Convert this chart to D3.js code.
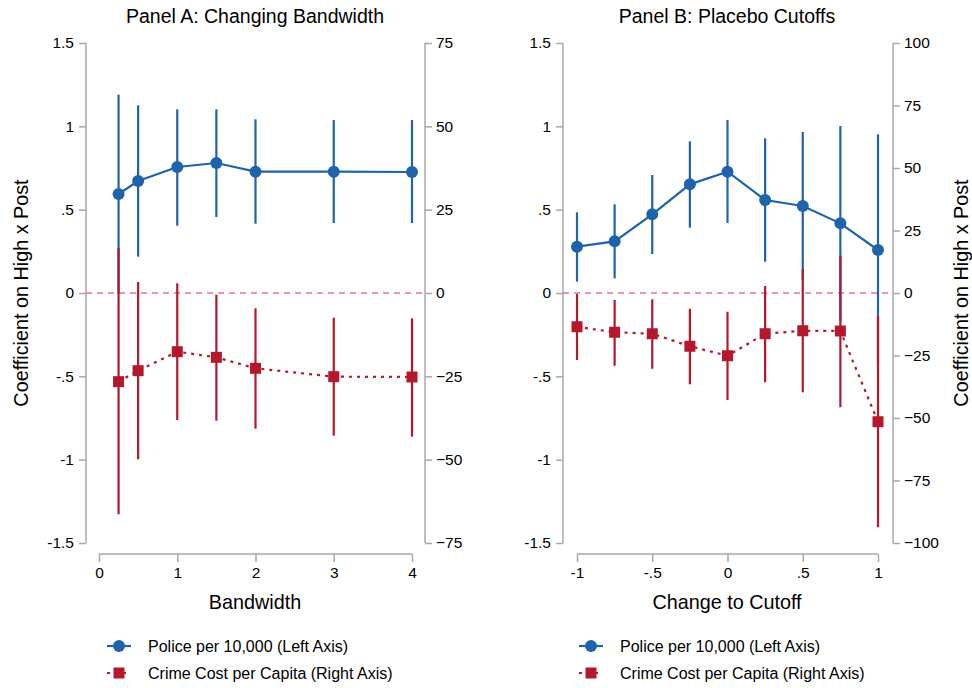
<!DOCTYPE html>
<html>
<head>
<meta charset="utf-8">
<script src="https://cdn.jsdelivr.net/npm/d3@7"></script>
<style>
  body { margin: 0; background: #fff; }
  text { font-family: "Liberation Sans", Arial, Helvetica, sans-serif; fill: #000; }
</style>
</head>
<body>
<div id="canvas"></div>
<script>
// Panel A: changing bandwidth
var bwX        = [0.25, 0.5, 1, 1.5, 2, 3, 4];
var bwPolice   = [0.594, 0.672, 0.756, 0.78, 0.728, 0.728, 0.726];
var bwPoliceLo = [0.0, 0.218, 0.404, 0.456, 0.416, 0.42, 0.42];
var bwPoliceHi = [1.19, 1.126, 1.102, 1.102, 1.042, 1.038, 1.038];
var bwCrime    = [-26.6, -23.3, -17.6, -19.3, -22.6, -25.1, -25.2];
var bwCrimeLo  = [-66.4, -49.9, -38.1, -38.3, -40.7, -42.8, -43.1];
var bwCrimeHi  = [13.5, 3.3, 2.9, -0.5, -4.6, -7.4, -7.6];

// Panel B: placebo cutoffs
var pcX        = [-1, -0.75, -0.5, -0.25, 0, 0.25, 0.5, 0.75, 1];
var pcPolice   = [0.278, 0.31, 0.472, 0.652, 0.728, 0.558, 0.522, 0.418, 0.258];
var pcPoliceLo = [0.068, 0.088, 0.234, 0.392, 0.42, 0.188, 0.078, -0.166, -0.436];
var pcPoliceHi = [0.484, 0.532, 0.708, 0.91, 1.038, 0.928, 0.966, 1.002, 0.952];
var pcCrime    = [-13.5, -15.7, -16.3, -21.3, -25.1, -16.3, -15.1, -15.2, -51.5];
var pcCrimeLo  = [-26.8, -29.1, -30.3, -36.5, -42.8, -35.7, -39.7, -45.7, -93.7];
var pcCrimeHi  = [-0.4, -2.8, -2.5, -6.3, -7.5, 2.8, 9.6, 14.9, -9.2];

// tick labels
var leftTicks   = [1.5, 1, 0.5, 0, -0.5, -1, -1.5];
var rightTicksA = [75, 50, 25, 0, -25, -50, -75];
var rightTicksB = [100, 75, 50, 25, 0, -25, -50, -75, -100];
var xTicksA = [0, 1, 2, 3, 4];
var xTicksB = [-1, -0.5, 0, 0.5, 1];

var legendLabels = ["Police per 10,000 (Left Axis)", "Crime Cost per Capita (Right Axis)"];

var blue = "#1f63ab", red = "#b3182d", pink = "#e0719f", grey = "#a8a8a8";

var w = 972, h = 688;
var svg = d3.select("#canvas").append("svg")
    .attr("width", w).attr("height", h);

function fmtLeft(v) {
  if (v === 0) return "0";
  var s = String(v);
  return s.replace(/^0\./, ".").replace(/^-0\./, "-.");
}

function drawPanel(p) {
  var g = svg.append("g");
  var yL = d3.scaleLinear().domain([-1.5, 1.5]).range([543, 43]);
  var yR = d3.scaleLinear().domain([-p.rMax, p.rMax]).range([543, 43]);
  var x = d3.scaleLinear().domain(p.xDomain).range(p.xRange);

  // title
  g.append("text").attr("x", p.center).attr("y", 23)
    .attr("text-anchor", "middle").style("font-size", "19.5px").text(p.title);

  // left axis
  var la = g.append("g").attr("transform", "translate(" + p.leftX + ",0)")
    .call(d3.axisLeft(yL).tickValues(leftTicks).tickFormat(fmtLeft).tickSize(7).tickPadding(5));
  // right axis
  var ra = g.append("g").attr("transform", "translate(" + p.rightX + ",0)")
    .call(d3.axisRight(yR).tickValues(p.rTicks).tickFormat(d3.format("d")).tickSize(7).tickPadding(4));
  // bottom axis
  var ba = g.append("g").attr("transform", "translate(0,554)")
    .call(d3.axisBottom(x).tickValues(p.xTicks).tickFormat(p.xFmt).tickSize(8).tickPadding(5));

  [la, ra, ba].forEach(function(a) {
    a.select(".domain").attr("stroke", grey).attr("stroke-width", 1.5);
    a.selectAll(".tick line").attr("stroke", grey).attr("stroke-width", 1.5);
    a.selectAll(".tick text").style("font-size", "15.5px").style("font-family", "Liberation Sans, Arial, sans-serif").attr("fill", "#000");
  });
  // Stata-style axis lines: no outer tick caps beyond the range
  la.select(".domain").attr("d", "M0,43V543");
  ra.select(".domain").attr("d", "M0,43V543");
  ba.select(".domain").attr("d", "M" + p.xRange[0] + ",0H" + p.xRange[1]);

  // axis titles
  g.append("text").attr("x", p.center).attr("y", 609)
    .attr("text-anchor", "middle").style("font-size", "19.8px").text(p.xTitle);

  // zero reference line
  g.append("line").attr("x1", p.leftX).attr("x2", p.rightX)
    .attr("y1", yL(0)).attr("y2", yL(0))
    .attr("stroke", pink).attr("stroke-width", 1.3).attr("stroke-dasharray", "6,5");

  var idx = d3.range(p.xs.length);

  // police: CIs, line, markers
  g.selectAll(".ciB").data(idx).join("line")
    .attr("x1", function(i){ return x(p.xs[i]); }).attr("x2", function(i){ return x(p.xs[i]); })
    .attr("y1", function(i){ return yL(p.policeLo[i]); })
    .attr("y2", function(i){ return yL(p.policeHi[i]); })
    .attr("stroke", blue).attr("stroke-width", 2.2);
  g.append("path").datum(idx)
    .attr("d", d3.line().x(function(i){ return x(p.xs[i]); }).y(function(i){ return yL(p.police[i]); }))
    .attr("fill", "none").attr("stroke", blue).attr("stroke-width", 2.2);
  g.selectAll(".ptB").data(idx).join("circle")
    .attr("cx", function(i){ return x(p.xs[i]); }).attr("cy", function(i){ return yL(p.police[i]); })
    .attr("r", 6).attr("fill", blue);

  // crime: CIs, dotted line, markers (right axis)
  g.selectAll(".ciR").data(idx).join("line")
    .attr("x1", function(i){ return x(p.xs[i]); }).attr("x2", function(i){ return x(p.xs[i]); })
    .attr("y1", function(i){ return yR(p.crimeLo[i]); })
    .attr("y2", function(i){ return yR(p.crimeHi[i]); })
    .attr("stroke", red).attr("stroke-width", 2.2);
  g.append("path").datum(idx)
    .attr("d", d3.line().x(function(i){ return x(p.xs[i]); }).y(function(i){ return yR(p.crime[i]); }))
    .attr("fill", "none").attr("stroke", red).attr("stroke-width", 2.2).attr("stroke-dasharray", "3,5");
  g.selectAll(".ptR").data(idx).join("rect")
    .attr("x", function(i){ return x(p.xs[i]) - 5.5; }).attr("y", function(i){ return yR(p.crime[i]) - 5.5; })
    .attr("width", 11).attr("height", 11).attr("fill", red);

  // legend
  var lg = g.append("g").attr("transform", "translate(" + p.legX + ",0)");
  lg.append("line").attr("x1", 0).attr("x2", 24).attr("y1", 646).attr("y2", 646)
    .attr("stroke", blue).attr("stroke-width", 2.2);
  lg.append("circle").attr("cx", 12).attr("cy", 646).attr("r", 6).attr("fill", blue);
  lg.append("line").attr("x1", 0).attr("x2", 24).attr("y1", 673).attr("y2", 673)
    .attr("stroke", red).attr("stroke-width", 2.2).attr("stroke-dasharray", "3,5");
  lg.append("rect").attr("x", 6.5).attr("y", 667.5).attr("width", 11).attr("height", 11).attr("fill", red);
  lg.selectAll(".lt").data(legendLabels).join("text")
    .attr("x", 41).attr("y", function(d, i){ return 652 + i * 27; })
    .style("font-size", "16px").text(function(d){ return d; });
}

drawPanel({
  title: "Panel A: Changing Bandwidth", xTitle: "Bandwidth", center: 255,
  xs: bwX, police: bwPolice, policeLo: bwPoliceLo, policeHi: bwPoliceHi,
  crime: bwCrime, crimeLo: bwCrimeLo, crimeHi: bwCrimeHi,
  xDomain: [0, 4], xRange: [99, 412], xTicks: xTicksA, xFmt: d3.format("d"),
  leftX: 86, rightX: 425, rMax: 75, rTicks: rightTicksA, legX: 107
});
drawPanel({
  title: "Panel B: Placebo Cutoffs", xTitle: "Change to Cutoff", center: 727,
  xs: pcX, police: pcPolice, policeLo: pcPoliceLo, policeHi: pcPoliceHi,
  crime: pcCrime, crimeLo: pcCrimeLo, crimeHi: pcCrimeHi,
  xDomain: [-1, 1], xRange: [577, 878], xTicks: xTicksB, xFmt: fmtLeft,
  leftX: 563, rightX: 893, rMax: 100, rTicks: rightTicksB, legX: 579
});

// shared y-axis titles
svg.append("text").attr("transform", "translate(28,293) rotate(-90)")
  .attr("text-anchor", "middle").style("font-size", "19.8px").text("Coefficient on High x Post");
svg.append("text").attr("transform", "translate(968,293) rotate(-90)")
  .attr("text-anchor", "middle").style("font-size", "19.8px").text("Coefficient on High x Post");
</script>
</body>
</html>
